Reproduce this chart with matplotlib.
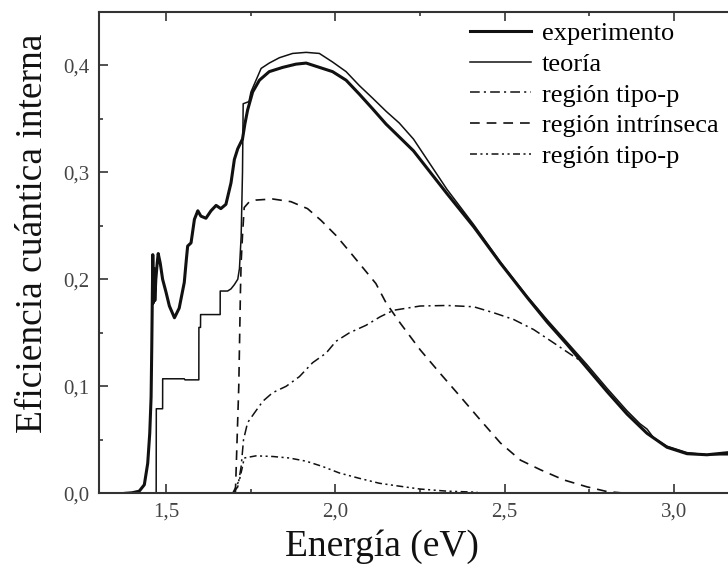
import matplotlib
matplotlib.use("Agg")
import matplotlib.pyplot as plt
from matplotlib.lines import Line2D
from matplotlib.ticker import MultipleLocator, FuncFormatter

plt.rcParams['font.family'] = ['Liberation Serif', 'DejaVu Serif']
plt.rcParams['lines.scale_dashes'] = False

# experimento (curva gruesa)
exp_x = [1.38, 1.40, 1.421, 1.436, 1.446, 1.452, 1.456, 1.458, 1.461, 1.463, 1.465,
         1.467, 1.470, 1.474, 1.477, 1.483, 1.490, 1.500, 1.510, 1.525, 1.539, 1.554,
         1.560, 1.564, 1.574, 1.584, 1.594, 1.603, 1.618, 1.633, 1.648, 1.662, 1.677,
         1.692, 1.702, 1.712, 1.726, 1.733, 1.741, 1.756, 1.776, 1.805, 1.845, 1.884,
         1.914, 1.953, 1.992, 2.032, 2.071, 2.111, 2.150, 2.189, 2.231, 2.330, 2.409,
         2.488, 2.567, 2.626, 2.685, 2.744, 2.803, 2.862, 2.921, 2.980, 3.039, 3.098,
         3.161, 3.20]
exp_y = [0.0, 0.0005, 0.002, 0.008, 0.028, 0.056, 0.09, 0.137, 0.223, 0.178, 0.21,
         0.18, 0.20, 0.215, 0.224, 0.215, 0.20, 0.188, 0.175, 0.164, 0.173, 0.197,
         0.218, 0.231, 0.234, 0.256, 0.264, 0.259, 0.257, 0.264, 0.269, 0.266, 0.270,
         0.290, 0.312, 0.322, 0.331, 0.345, 0.358, 0.375, 0.386, 0.394, 0.398, 0.401,
         0.402, 0.398, 0.394, 0.386, 0.373, 0.359, 0.345, 0.333, 0.320, 0.280, 0.249,
         0.215, 0.183, 0.160, 0.139, 0.117, 0.095, 0.074, 0.056, 0.043, 0.037, 0.036,
         0.038, 0.040]

# teoria (curva delgada, escalones)
th_x = [1.40, 1.471, 1.4714, 1.490, 1.4902, 1.554, 1.556, 1.597, 1.5972, 1.602, 1.6022,
        1.660, 1.6602, 1.682, 1.692, 1.702, 1.712, 1.717, 1.722, 1.724, 1.726, 1.728,
        1.745, 1.751, 1.766, 1.781, 1.805, 1.835, 1.874, 1.914, 1.953, 1.992, 2.032,
        2.071, 2.111, 2.150, 2.189, 2.231, 2.330, 2.409, 2.488, 2.567, 2.626, 2.685,
        2.744, 2.803, 2.862, 2.900, 2.921, 2.940, 2.980, 3.039, 3.098, 3.161, 3.20]
th_y = [0.0, 0.0, 0.079, 0.079, 0.107, 0.107, 0.106, 0.106, 0.155, 0.155, 0.167,
        0.167, 0.189, 0.189, 0.191, 0.195, 0.200, 0.210, 0.240, 0.270, 0.300, 0.364,
        0.366, 0.375, 0.386, 0.397, 0.402, 0.407, 0.411, 0.412, 0.411, 0.403, 0.394,
        0.381, 0.369, 0.357, 0.346, 0.331, 0.284, 0.251, 0.216, 0.184, 0.162, 0.141,
        0.120, 0.098, 0.077, 0.065, 0.060, 0.052, 0.044, 0.038, 0.036, 0.036, 0.036]

# region tipo-p (raya-punto)
p1_x = [1.697, 1.712, 1.722, 1.729, 1.741, 1.761, 1.786, 1.815, 1.855, 1.894, 1.933,
        1.973, 2.002, 2.042, 2.091, 2.133, 2.172, 2.251, 2.330, 2.409, 2.468, 2.527,
        2.586, 2.645, 2.704, 2.734]
p1_y = [0.0, 0.006, 0.025, 0.050, 0.066, 0.075, 0.086, 0.094, 0.100, 0.109, 0.122,
        0.131, 0.142, 0.150, 0.157, 0.165, 0.171, 0.175, 0.1755, 0.1743, 0.1687, 0.1624,
        0.153, 0.1406, 0.128, 0.122]

# region intrinseca (rayas)
in_x = [1.705, 1.715, 1.720, 1.722, 1.726, 1.731, 1.745, 1.766, 1.815, 1.869, 1.918,
        1.958, 2.002, 2.042, 2.081, 2.120, 2.150, 2.192, 2.251, 2.310, 2.369, 2.428,
        2.488, 2.547, 2.606, 2.675, 2.744, 2.803, 2.842]
in_y = [0.0, 0.10, 0.19, 0.216, 0.241, 0.267, 0.272, 0.274, 0.275, 0.2725, 0.266,
        0.255, 0.241, 0.226, 0.211, 0.196, 0.178, 0.159, 0.134, 0.112, 0.0905, 0.0687,
        0.047, 0.031, 0.022, 0.0125, 0.006, 0.0016, 0.0005]

# region tipo-p (raya-punto-punto)
p2_x = [1.697, 1.717, 1.726, 1.731, 1.766, 1.815, 1.864, 1.914, 1.963, 2.012, 2.071,
        2.130, 2.184, 2.25, 2.33, 2.42]
p2_y = [0.0, 0.0125, 0.025, 0.033, 0.035, 0.0344, 0.033, 0.030, 0.025, 0.019, 0.014,
        0.0094, 0.0069, 0.004, 0.002, 0.001]

labels = ["experimento", "teoría", "región tipo-p", "región intrínseca", "región tipo-p"]

fig = plt.figure(figsize=(7.28, 5.78), dpi=100)
ax = fig.add_axes([99.3 / 728, 1 - 493.3 / 578, (741.5 - 99.3) / 728, (493.3 - 11.7) / 578])

c = '#111111'
ax.plot(exp_x, exp_y, color=c, lw=2.2)
ax.plot(th_x, th_y, color=c, lw=1.1)
ax.plot(p1_x, p1_y, color=c, lw=1.1, dashes=(7, 3, 1.5, 3))
ax.plot(in_x, in_y, color=c, lw=1.2, dashes=(7, 5))
ax.plot(p2_x, p2_y, color=c, lw=1.1, dashes=(5, 2.5, 1.5, 2.5, 1.5, 2.5))

ax.set_xlim(1.303, 3.2)
ax.set_ylim(0, 0.45)
ax.xaxis.set_major_locator(MultipleLocator(0.5))
ax.xaxis.set_minor_locator(MultipleLocator(0.25))
ax.yaxis.set_major_locator(MultipleLocator(0.1))
ax.yaxis.set_minor_locator(MultipleLocator(0.05))
fmt = FuncFormatter(lambda v, p: f"{v:.1f}".replace('.', ','))
ax.xaxis.set_major_formatter(fmt)
ax.yaxis.set_major_formatter(fmt)
ax.tick_params(which='both', direction='in', top=True, right=True, color='#222222',
               width=1.1, labelsize=15, labelcolor='#444444')
ax.tick_params(which='major', length=6.5, pad=7)
ax.tick_params(which='minor', length=3.2)
for s in ax.spines.values():
    s.set_linewidth(1.5)
    s.set_color('#333333')

ax.set_xlabel("Energía (eV)", fontsize=27, color='#111111')
ax.set_ylabel("Eficiencia cuántica interna", fontsize=27, color='#111111')
ax.xaxis.set_label_coords(0.44, -0.075)
ax.yaxis.set_label_coords(-0.077, 0.54)

handles = [Line2D([], [], color=c, lw=2.2),
           Line2D([], [], color=c, lw=1.1),
           Line2D([], [], color=c, lw=1.1, dashes=(7, 3, 1.5, 3)),
           Line2D([], [], color=c, lw=1.2, dashes=(7, 5)),
           Line2D([], [], color=c, lw=1.1, dashes=(5, 2.5, 1.5, 2.5, 1.5, 2.5))]
fig.legend(handles, labels, loc='upper left', bbox_to_anchor=(0.646, 0.962),
           frameon=False, fontsize=19, handlelength=2.3, handletextpad=0.4,
           labelspacing=0.27, borderpad=0, borderaxespad=0)

fig.savefig("out.png", dpi=100)
